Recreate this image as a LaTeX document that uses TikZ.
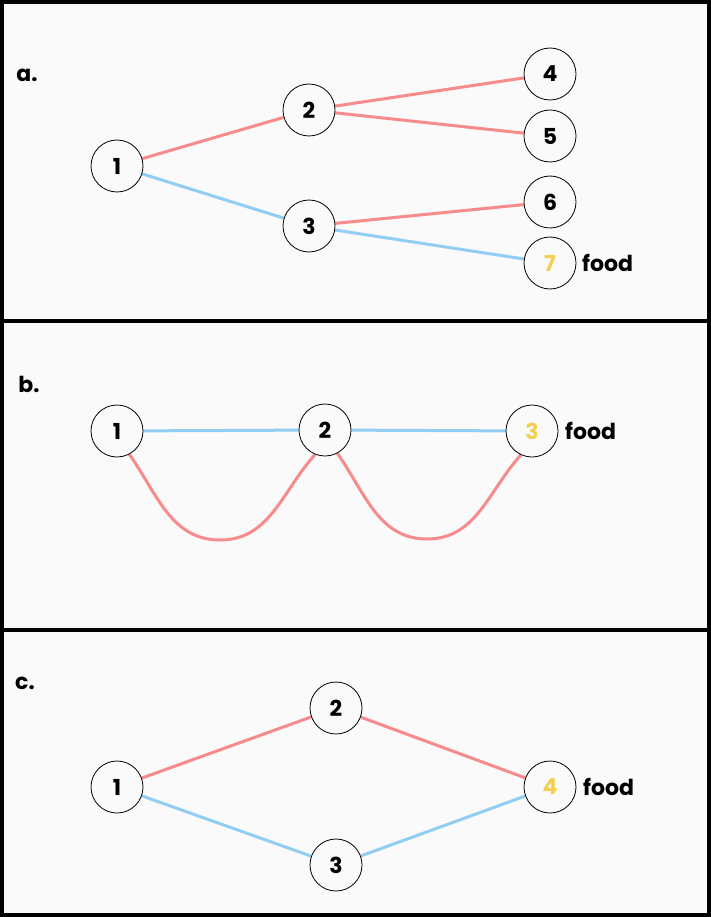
\documentclass[tikz,border=0pt]{standalone}
\usepackage{fontspec}
\setmainfont{Poppins}
\usetikzlibrary{backgrounds}
\definecolor{bg}{HTML}{FAFAFA}
\definecolor{redl}{HTML}{F78A8A}
\definecolor{bluel}{HTML}{92CDF4}
\definecolor{foodc}{HTML}{F2CF4F}
\begin{document}
\begin{tikzpicture}[x=1pt,y=-1pt,
  vert/.style={circle,draw=black,line width=0.8pt,fill=bg,minimum size=52pt,inner sep=0pt,font=\fontsize{22}{24}\selectfont\bfseries},
  foodv/.style={vert,text=foodc},
  lbl/.style={font=\fontsize{22}{24}\selectfont\bfseries,anchor=west,inner sep=0pt},
  plab/.style={font=\fontsize{22}{24}\selectfont\bfseries,inner sep=0pt},
  rede/.style={draw=redl,line width=3pt},
  bluee/.style={draw=bluel,line width=3pt},
  frame/.style={draw=black,line width=4pt}]
\useasboundingbox (0,0) rectangle (711,917);

% panel a
\node[plab] (la) at (27,75) {a.};
\node[vert] (a1) at (117,166) {1};
\node[vert] (a2) at (309,110) {2};
\node[vert] (a3) at (309,226) {3};
\node[vert] (a4) at (550,74) {4};
\node[vert] (a5) at (550,136) {5};
\node[vert] (a6) at (550,202) {6};
\node[foodv] (a7) at (550,263) {7};
\node[lbl] (fa) at (582,263) {food};

% panel b
\node[plab] (lb) at (29,384) {b.};
\node[vert] (b1) at (117,431) {1};
\node[vert] (b2) at (325,430) {2};
\node[foodv] (b3) at (532,431) {3};
\node[lbl] (fb) at (565,431) {food};
\coordinate (bm1) at (220,540);
\coordinate (bm2) at (427,539);

% panel c
\node[plab] (lc) at (25,683) {c.};
\node[vert] (c1) at (117,787) {1};
\node[vert] (c2) at (336,708) {2};
\node[vert] (c3) at (336,865) {3};
\node[foodv] (c4) at (550,787) {4};
\node[lbl] (fc) at (583,787) {food};

\begin{scope}[on background layer]
\fill[bg] (0,0) rectangle (711,917);
\draw[frame] (2,2) rectangle (709,915);
\draw[frame] (0,321) -- (711,321);
\draw[frame] (0,630) -- (711,630);
\draw[rede] (a1) -- (a2);
\draw[bluee] (a1) -- (a3);
\draw[rede] (a2) -- (a4);
\draw[rede] (a2) -- (a5);
\draw[rede] (a3) -- (a6);
\draw[bluee] (a3) -- (a7);
\draw[bluee] (b1) -- (b2);
\draw[bluee] (b2) -- (b3);
\draw[rede] (b1.-62) to[out=-55,in=180] (bm1) to[out=0,in=-132] (b2.-112);
\draw[rede] (b2.-62) to[out=-55,in=180] (bm2) to[out=0,in=-132] (b3.-115);
\draw[rede] (c1) -- (c2);
\draw[bluee] (c1) -- (c3);
\draw[rede] (c2) -- (c4);
\draw[bluee] (c3) -- (c4);
\end{scope}
\end{tikzpicture}
\end{document}
